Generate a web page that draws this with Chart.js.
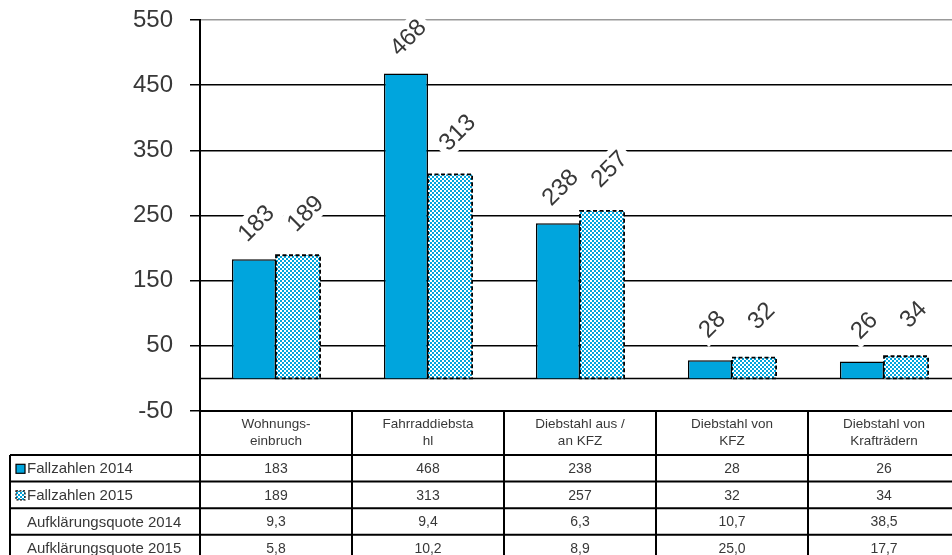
<!DOCTYPE html>
<html>
<head>
<meta charset="utf-8">
<script src="https://cdn.jsdelivr.net/npm/chart.js@4/dist/chart.umd.min.js"></script>
<style>
  html, body { margin: 0; padding: 0; background: #fff; overflow: hidden; }
  #wrap { width: 952px; height: 555px; overflow: hidden; position: relative; }
  #chart { display: block; }
</style>
</head>
<body>
<div id="wrap"><canvas id="chart" width="970" height="570"></canvas></div>
<script>
// Data
var categories = [
  ['Wohnungs-', 'einbruch'],
  ['Fahrraddiebsta', 'hl'],
  ['Diebstahl aus /', 'an KFZ'],
  ['Diebstahl von', 'KFZ'],
  ['Diebstahl von', 'Krafträdern']
];
var fall2014 = [183, 468, 238, 28, 26];
var fall2015 = [189, 313, 257, 32, 34];
var quote2014 = [9.3, 9.4, 6.3, 10.7, 38.5];
var quote2015 = [5.8, 10.2, 8.9, 25.0, 17.7];
var seriesNames = ['Fallzahlen 2014', 'Fallzahlen 2015', 'Aufklärungsquote 2014', 'Aufklärungsquote 2015'];
var yMin = -50, yMax = 550, yStep = 100;

var CYAN = '#00A5DD';
var TEXT = '#383838';
var FONT = '"Liberation Sans", Arial, sans-serif';

// checker pattern for 2015 bars
function makePattern(ctx) {
  var c = document.createElement('canvas');
  c.width = 4; c.height = 4;
  var p = c.getContext('2d');
  p.fillStyle = '#ffffff';
  p.fillRect(0, 0, 4, 4);
  p.fillStyle = CYAN;
  p.fillRect(0, 0, 2, 2);
  p.fillRect(2, 2, 2, 2);
  return ctx.createPattern(c, 'repeat');
}

var ctx = document.getElementById('chart').getContext('2d');
var pattern = makePattern(ctx);

function fmt(v) {
  return v.toFixed(1).replace('.', ',');
}

// zero line under the bars
var zeroLine = {
  id: 'zeroLine',
  beforeDatasetsDraw: function (chart) {
    var c = chart.ctx, a = chart.chartArea;
    var y0 = chart.scales.y.getPixelForValue(0);
    c.save();
    c.strokeStyle = '#000';
    c.lineWidth = 1.5;
    c.beginPath();
    c.moveTo(a.left, y0);
    c.lineTo(a.right, y0);
    c.stroke();
    c.restore();
  }
};

// dashed border for 2015 bars + rotated value labels
var barExtras = {
  id: 'barExtras',
  afterDatasetsDraw: function (chart) {
    var c = chart.ctx;
    var meta2 = chart.getDatasetMeta(1);
    c.save();
    c.strokeStyle = '#000';
    c.lineWidth = 1.8;
    c.setLineDash([4, 2.5]);
    meta2.data.forEach(function (bar) {
      var p = bar.getProps(['x', 'y', 'base', 'width'], true);
      c.strokeRect(p.x - p.width / 2, p.y, p.width, p.base - p.y);
    });
    c.restore();

    // label offsets (above bar top), roughly as in the original
    var lift = [36, 42], shift = [2, 7];
    c.save();
    c.font = '24px ' + FONT;
    c.textAlign = 'center';
    c.textBaseline = 'middle';
    chart.data.datasets.forEach(function (ds, di) {
      chart.getDatasetMeta(di).data.forEach(function (bar, i) {
        var p = bar.getProps(['x', 'y'], true);
        var txt = String(ds.data[i]);
        var w = c.measureText(txt).width;
        c.save();
        c.translate(p.x + shift[di], p.y - lift[di]);
        c.rotate(-Math.PI / 4);
        c.fillStyle = '#fff';
        c.fillRect(-w / 2 - 5, -14, w + 10, 28);
        c.fillStyle = TEXT;
        c.fillText(txt, 0, 1);
        c.restore();
      });
    });
    c.restore();
  }
};

// data table under the plot
var dataTable = {
  id: 'dataTable',
  afterDraw: function (chart) {
    var c = chart.ctx, a = chart.chartArea;
    var xs = chart.scales.x;
    var n = categories.length;
    var colW = (a.right - a.left) / n;
    var top = a.bottom;
    var headH = 44;
    var rowH = 26.6;
    var tableLeft = 10;
    var rows = [fall2014, fall2015, quote2014, quote2015];
    var bottom = top + headH + rowH * rows.length;

    c.save();
    c.strokeStyle = '#000';
    c.lineWidth = 2;
    // horizontal lines
    c.beginPath();
    c.moveTo(a.left, top); c.lineTo(a.right + 20, top);
    for (var r = 0; r <= rows.length; r++) {
      var yy = top + headH + r * rowH;
      c.moveTo(tableLeft, yy); c.lineTo(a.right + 20, yy);
    }
    // vertical lines
    c.moveTo(tableLeft, top + headH); c.lineTo(tableLeft, bottom);
    for (var k = 0; k <= n; k++) {
      var xx = a.left + k * colW;
      c.moveTo(xx, top); c.lineTo(xx, bottom);
    }
    c.stroke();

    // header text
    c.fillStyle = TEXT;
    c.textAlign = 'center';
    c.textBaseline = 'middle';
    c.font = '13.5px ' + FONT;
    categories.forEach(function (lab, i) {
      var cx = xs.getPixelForValue(i);
      c.fillText(lab[0], cx, top + 13);
      c.fillText(lab[1], cx, top + 30);
    });

    // body
    rows.forEach(function (vals, r) {
      var cy = top + headH + r * rowH + rowH / 2 + 1;
      c.font = '14px ' + FONT;
      c.textAlign = 'center';
      vals.forEach(function (v, i) {
        var cx = xs.getPixelForValue(i);
        c.fillText(r < 2 ? String(v) : fmt(v), cx, cy);
      });
      c.font = '15px ' + FONT;
      c.textAlign = 'left';
      c.fillText(seriesNames[r], 27, cy);
    });

    // legend keys
    var k1y = top + headH + rowH / 2 - 4;
    c.fillStyle = CYAN;
    c.fillRect(16, k1y, 9, 9);
    c.lineWidth = 1.2;
    c.setLineDash([]);
    c.strokeRect(16, k1y, 9, 9);
    var k2y = top + headH + rowH * 1.5 - 4;
    c.fillStyle = pattern;
    c.fillRect(16, k2y, 9, 9);
    c.setLineDash([2, 1.5]);
    c.strokeRect(16, k2y, 9, 9);
    c.restore();
  }
};

new Chart(ctx, {
  type: 'bar',
  data: {
    labels: categories,
    datasets: [{
      label: seriesNames[0],
      data: fall2014,
      backgroundColor: CYAN,
      borderColor: '#000',
      borderWidth: 1.5
    }, {
      label: seriesNames[1],
      data: fall2015,
      backgroundColor: pattern,
      borderWidth: 0
    }]
  },
  options: {
    responsive: false,
    animation: false,
    devicePixelRatio: 1,
    layout: { padding: { top: 20, right: 10, bottom: 159, left: 0 } },
    datasets: { bar: { categoryPercentage: 0.58, barPercentage: 1 } },
    plugins: {
      legend: { display: false },
      tooltip: { enabled: false }
    },
    scales: {
      x: {
        display: false
      },
      y: {
        min: yMin,
        max: yMax,
        afterFit: function (scale) {
          scale.width = 200;
          scale.paddingTop = 0;
          scale.paddingBottom = 0;
        },
        ticks: {
          stepSize: yStep,
          padding: 17,
          color: TEXT,
          font: { size: 24, family: FONT }
        },
        grid: {
          color: function (c) { return c.tick && c.tick.value === yMax ? '#999' : '#000'; },
          tickColor: '#000',
          lineWidth: 1.5,
          tickLength: 10
        },
        border: { display: true, color: '#000', width: 2 }
      }
    }
  },
  plugins: [zeroLine, barExtras, dataTable]
});
</script>
</body>
</html>
